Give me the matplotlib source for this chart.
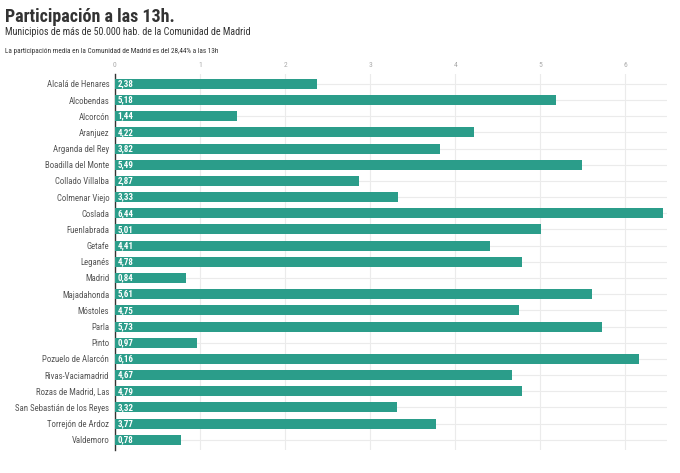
import matplotlib.pyplot as plt
from matplotlib import font_manager

# datos
municipios = ["Alcalá de Henares", "Alcobendas", "Alcorcón", "Aranjuez", "Arganda del Rey",
              "Boadilla del Monte", "Collado Villalba", "Colmenar Viejo", "Coslada", "Fuenlabrada",
              "Getafe", "Leganés", "Madrid", "Majadahonda", "Móstoles", "Parla", "Pinto",
              "Pozuelo de Alarcón", "Rivas-Vaciamadrid", "Rozas de Madrid, Las",
              "San Sebastián de los Reyes", "Torrejón de Ardoz", "Valdemoro"]
participacion = [2.38, 5.18, 1.44, 4.22, 3.82, 5.49, 2.87, 3.33, 6.44, 5.01, 4.41, 4.78, 0.84,
                 5.61, 4.75, 5.73, 0.97, 6.16, 4.67, 4.79, 3.32, 3.77, 0.78]
ticks = [0, 1, 2, 3, 4, 5, 6]

names = set(f.name for f in font_manager.fontManager.ttflist)
fuente = "Roboto Condensed" if "Roboto Condensed" in names else "Roboto"
plt.rcParams["font.family"] = [fuente, "DejaVu Sans"]

fig = plt.figure(figsize=(6.8, 4.73), dpi=100)
ax = fig.add_axes([0.169, 0.049, 0.812, 0.795])

y = list(range(len(municipios)))
ax.barh(y, participacion, height=0.62, color="#2b9d8a", zorder=3)
for i, v in enumerate(participacion):
    ax.text(0.03, i, f"{v:.2f}".replace(".", ","), color="white", fontsize=6.5,
            fontweight="bold", va="center", ha="left", zorder=4)

ax.set_xlim(0, 6.49)
ax.set_ylim(len(municipios) - 0.38, -0.62)
ax.set_yticks(y)
ax.set_yticklabels(municipios, fontsize=6.3, color="#555555")
ax.set_xticks(ticks)
ax.xaxis.tick_top()
ax.tick_params(axis="x", labelsize=5.5, colors="#aaaaaa", length=0, pad=4)
ax.tick_params(axis="y", length=0, pad=4)
ax.grid(True, color="#ebebeb", linewidth=0.8, zorder=0)
for s in ["top", "right", "bottom"]:
    ax.spines[s].set_visible(False)
ax.spines["left"].set_color("#333333")
ax.spines["left"].set_linewidth(1)

fig.text(0.008, 0.953, "Participación a las 13h.", fontsize=13, fontweight="bold",
         color="#333333", va="baseline")
fig.text(0.008, 0.926, "Municipios de más de 50.000 hab. de la Comunidad de Madrid",
         fontsize=7.2, color="#333333", va="baseline")
fig.text(0.008, 0.889, "La participación media en la Comunidad de Madrid es del 28,44% a las 13h",
         fontsize=5.2, color="#333333", va="baseline")

fig.savefig("out.png", dpi=100)
